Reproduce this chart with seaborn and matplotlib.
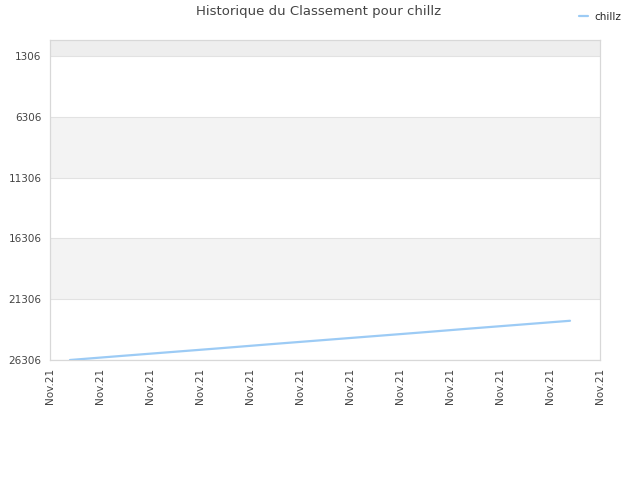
import matplotlib
matplotlib.use("Agg")
import matplotlib.pyplot as plt
import seaborn as sns
import pandas as pd

# ranking history (x in tick units, one point per day)
days = [0.4, 1.4, 2.4, 3.4, 4.4, 5.4, 6.4, 7.4, 8.4, 9.4, 10.4]
ranks = [26306, 25980, 25660, 25340, 25010, 24690, 24370, 24050, 23720, 23400, 23080]
ytick_vals = [1306, 6306, 11306, 16306, 21306, 26306]
xtick_pos = list(range(12))
xtick_labels = ["Nov.21"] * 12

sns.set_theme(style="white")
plt.rcParams['font.family'] = ['DejaVu Sans']

df = pd.DataFrame({"day": days, "rank": ranks})

fig = plt.figure(figsize=(6.4, 4.8), dpi=100)
ax = fig.add_axes([50 / 640, 1 - 360 / 480, 550 / 640, 320 / 480])

# alternating bands
ax.axhspan(-10, 1306, color="#eeeeee", zorder=0, lw=0)
ax.axhspan(6306, 11306, color="#f3f3f3", zorder=0, lw=0)
ax.axhspan(16306, 21306, color="#f3f3f3", zorder=0, lw=0)
for v in ytick_vals:
    ax.axhline(v, color="#e2e2e2", lw=0.8, zorder=1)

sns.lineplot(data=df, x="day", y="rank", ax=ax, color="#9ccbf5", lw=1.6,
             label="chillz", zorder=3, legend=False)

ax.set_xlim(0, 11)
ax.set_ylim(26306, -10)
ax.set_yticks(ytick_vals)
ax.set_yticklabels([str(v) for v in ytick_vals], fontsize=7.5, color="#444444")
ax.set_xticks(xtick_pos)
ax.set_xticklabels(xtick_labels, rotation=90, fontsize=7.5, color="#444444")
ax.tick_params(axis="both", length=0, pad=6)
ax.set_xlabel("")
ax.set_ylabel("")
for s in ax.spines.values():
    s.set_color("#d8d8d8")
    s.set_linewidth(0.9)

fig.text(0.497, 0.975, "Historique du Classement pour chillz", ha="center", va="center",
         fontsize=9.5, color="#444444")
handles, labels = ax.get_legend_handles_labels()
fig.legend(handles, labels, loc="upper right", bbox_to_anchor=(0.985, 0.995),
           frameon=False, fontsize=7.5, handlelength=0.9, handletextpad=0.6)

fig.savefig("out.png", dpi=100)
